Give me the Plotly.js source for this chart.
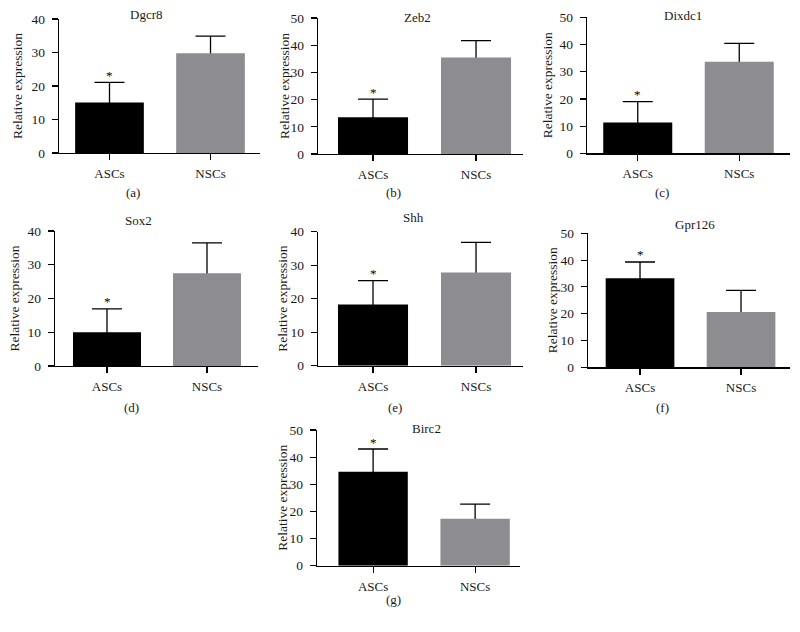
<!DOCTYPE html>
<html>
<head>
<meta charset="utf-8">
<script src="https://cdn.plot.ly/plotly-3.0.1.min.js"></script>
<style>html,body{margin:0;padding:0;background:#fff;}#chart{width:800px;height:632px;}</style>
</head>
<body>
<div id="chart"></div>
<script>
// ---- data ----
const groups = ["ASCs", "NSCs"];
const genes = ["Dgcr8", "Zeb2", "Dixdc1", "Sox2", "Shh", "Gpr126", "Birc2"];
const panelLabels = ["(a)", "(b)", "(c)", "(d)", "(e)", "(f)", "(g)"];
const ascMean = [15.1, 13.5, 11.3, 10.0, 18.3, 33.2, 34.6];
const ascErr  = [6.0, 6.7, 7.7, 6.9, 7.1, 6.1, 8.4];
const nscMean = [29.8, 35.5, 33.7, 27.5, 27.8, 20.6, 17.3];
const nscErr  = [5.1, 6.2, 6.7, 9.0, 9.0, 8.1, 5.4];
const yMax    = [40, 50, 50, 40, 40, 50, 50];
const significant = [true, true, true, true, true, true, true];

// ---- layout geometry (pixels) ----
const W = 800, H = 632;
const boxes = [
  {x0: 59,  x1: 260, y0: 19,    y1: 153,   xr: [-0.5, 1.49]},
  {x0: 318, x1: 523, y0: 18,    y1: 154,   xr: [-0.534, 1.456]},
  {x0: 587, x1: 790, y0: 17.3,  y1: 153.3, xr: [-0.5, 1.5]},
  {x0: 55,  x1: 258, y0: 231,   y1: 366,   xr: [-0.52, 1.51]},
  {x0: 318, x1: 523, y0: 231.7, y1: 365.7, xr: [-0.534, 1.456]},
  {x0: 588, x1: 790, y0: 233.3, y1: 367.3, xr: [-0.515, 1.485]},
  {x0: 317, x1: 520, y0: 430,   y1: 565.7, xr: [-0.55, 1.44]}
];
const titlePos = [[146,14],[417,17],[683,15],[138,220],[414,217],[695,224],[427,429]];
const labelPos = [[133,192],[393,192],[662,192],[131,407],[395,407],[662,407],[393,599]];
const yTitleX  = [17, 284, 547, 14, 283, 552, 283];

const FONT = "Liberation Serif";
const TXT = "#1a1a1a";
const px = v => v / W;
const py = v => 1 - v / H;

const traces = [];
const layout = {
  width: W, height: H,
  margin: {l: 0, r: 0, t: 0, b: 0},
  paper_bgcolor: "#fff", plot_bgcolor: "#fff",
  showlegend: false, barmode: "overlay",
  font: {family: FONT, size: 12, color: TXT},
  annotations: []
};

genes.forEach((g, i) => {
  const n = i === 0 ? "" : String(i + 1);
  const xa = "x" + n, ya = "y" + n;
  const b = boxes[i];
  // error bars (drawn first, lower half hidden by the bars drawn on top)
  traces.push({
    type: "bar",
    x: groups,
    y: [ascMean[i], nscMean[i]],
    xaxis: xa, yaxis: ya,
    width: 0.68,
    marker: {color: "rgba(0,0,0,0)", line: {width: 0}},
    error_y: {type: "data", symmetric: true, array: [ascErr[i], nscErr[i]],
              color: "#000", thickness: 1.3, width: 15},
    hoverinfo: "none"
  });
  // bars
  traces.push({
    type: "bar",
    x: groups,
    y: [ascMean[i], nscMean[i]],
    xaxis: xa, yaxis: ya,
    width: 0.68,
    marker: {color: ["#000000", "#8d8c91"], line: {width: 0}},
    hoverinfo: "none"
  });
  layout["xaxis" + n] = {
    domain: [px(b.x0), px(b.x1)], anchor: ya,
    type: "category", range: b.xr,
    showline: true, linecolor: "#000", linewidth: 1.2,
    ticks: "outside", ticklen: 6, tickwidth: 1.2, tickcolor: "#000",
    showgrid: false, zeroline: false, fixedrange: true,
    tickfont: {family: FONT, size: 13, color: TXT}, ticklabelstandoff: 2
  };
  layout["yaxis" + n] = {
    domain: [py(b.y1), py(b.y0)], anchor: xa,
    range: [0, yMax[i]], dtick: 10,
    showline: true, linecolor: "#000", linewidth: 1.2,
    ticks: "outside", ticklen: 6, tickwidth: 1.2, tickcolor: "#000",
    showgrid: false, zeroline: false, fixedrange: true,
    tickfont: {family: FONT, size: 13.5, color: TXT}, ticklabelstandoff: 4
  };
  layout.annotations.push({xref: "paper", yref: "paper", x: px(titlePos[i][0]), y: py(titlePos[i][1]),
    text: g, showarrow: false, xanchor: "center", yanchor: "middle",
    font: {family: FONT, size: 13, color: TXT}});
  layout.annotations.push({xref: "paper", yref: "paper", x: px(labelPos[i][0]), y: py(labelPos[i][1]),
    text: panelLabels[i], showarrow: false, xanchor: "center", yanchor: "middle",
    font: {family: FONT, size: 13, color: TXT}});
  layout.annotations.push({xref: "paper", yref: "paper", x: px(yTitleX[i]), y: py((b.y0 + b.y1) / 2),
    text: "Relative expression", textangle: -90, showarrow: false, xanchor: "center", yanchor: "middle",
    font: {family: FONT, size: 13.5, color: TXT}});
  if (significant[i]) {
    layout.annotations.push({xref: xa, yref: ya, x: groups[0], y: ascMean[i] + ascErr[i],
      text: "*", showarrow: false, xanchor: "center", yanchor: "middle", yshift: 7,
      font: {family: FONT, size: 13, color: "#000"}});
  }
});

Plotly.newPlot("chart", traces, layout, {displayModeBar: false, staticPlot: true});
</script>
</body>
</html>
